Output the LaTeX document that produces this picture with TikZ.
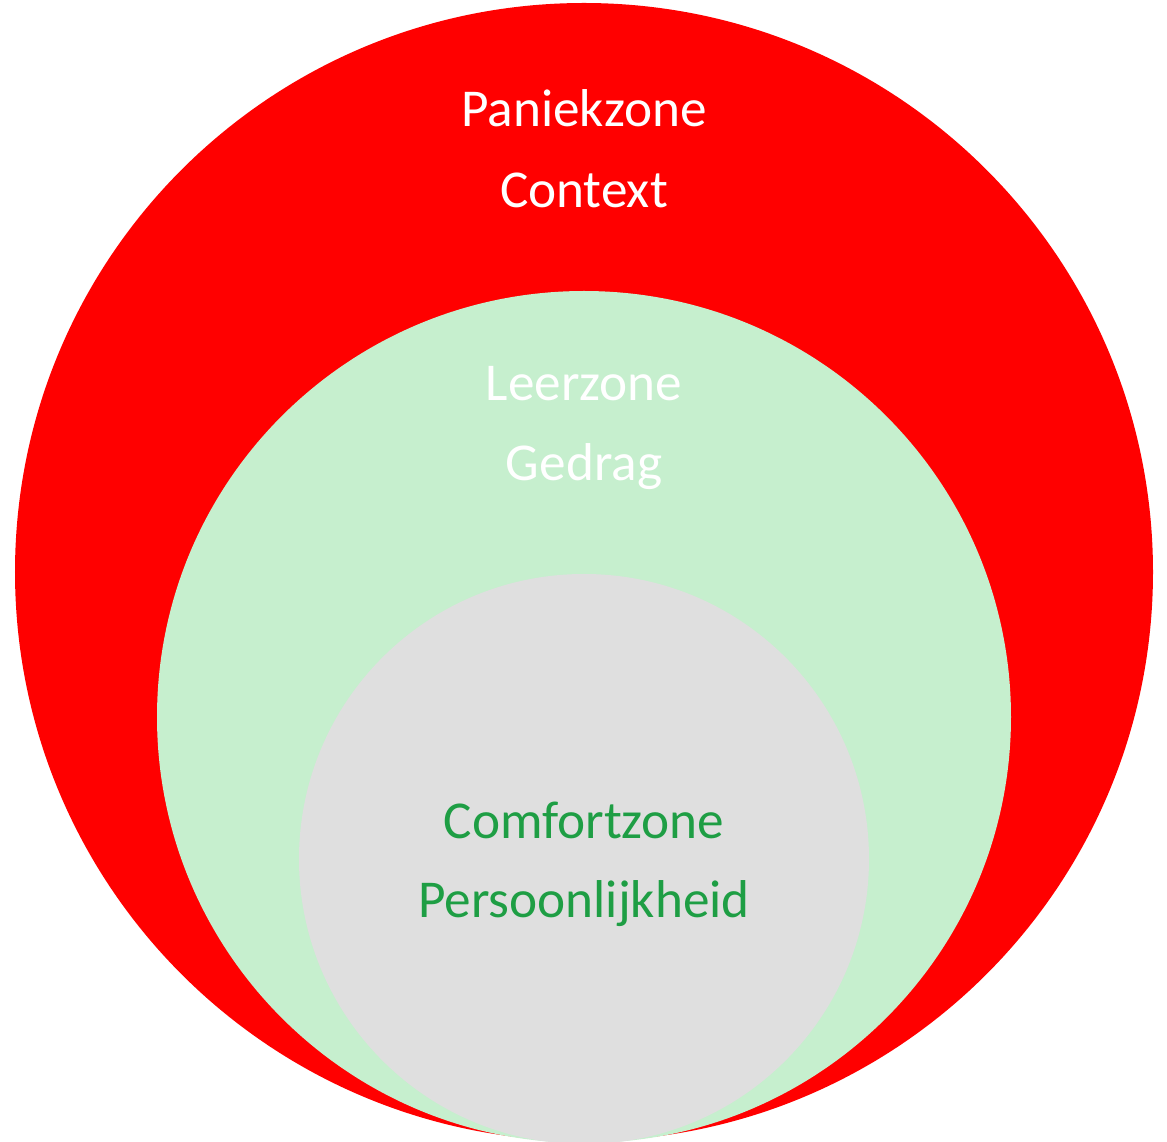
\documentclass[tikz,border=0pt]{standalone}
\usepackage{fontspec}
\setmainfont{Carlito}
\definecolor{panick}{HTML}{FF0000}
\definecolor{leer}{HTML}{C6EFCE}
\definecolor{comfort}{HTML}{DFDFDF}
\definecolor{comforttext}{HTML}{1E9E44}
\tikzset{zonetext/.style={font=\fontsize{30.3}{36}\selectfont, inner sep=0pt}}
\begin{document}
\begin{tikzpicture}
	\useasboundingbox (0,0) rectangle (23.34,22.82);
	\clip (0,0) rectangle (23.34,22.82);
	\fill[panick] (11.68,11.38) ellipse [x radius=11.38, y radius=11.38];
	\fill[leer] (11.68,8.48) ellipse [x radius=8.54, y radius=8.52];
	\fill[comfort] (11.68,5.64) ellipse [x radius=5.7, y radius=5.7];
	\node[zonetext, white] (paniek) at (11.68,20.66) {Paniekzone};
	\node[zonetext, white] (context) at (11.68,19.02) {Context};
	\node[zonetext, white] (leer) at (11.68,15.14) {Leerzone};
	\node[zonetext, white] (gedrag) at (11.68,13.48) {Gedrag};
	\node[zonetext, comforttext] (comfortz) at (11.68,6.42) {Comfortzone};
	\node[zonetext, comforttext] (persoon) at (11.68,4.74) {Persoonlijkheid};
\end{tikzpicture}
\end{document}
